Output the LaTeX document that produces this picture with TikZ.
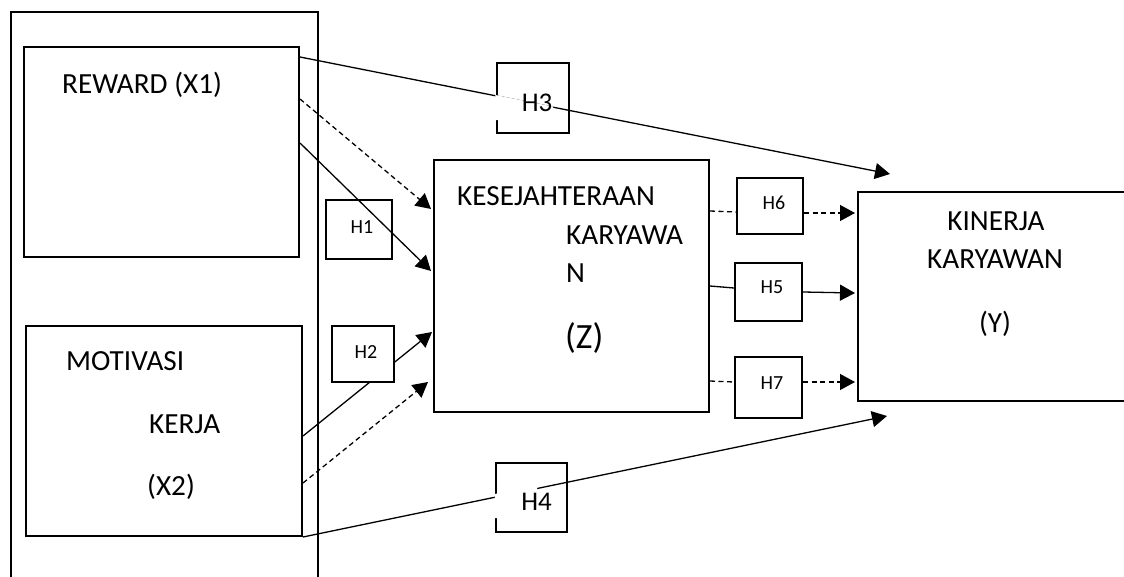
\documentclass[tikz,border=0pt]{standalone}
\usepackage{fontspec}
\setmainfont{Carlito}
\usetikzlibrary{arrows.meta}
\begin{document}
\begin{tikzpicture}[x=1pt,y=-1pt,
  box/.style={draw,line width=2pt,inner sep=0pt},
  hbox/.style={draw,line width=2pt,inner sep=0pt},
  conn/.style={line width=1.3pt},
  dconn/.style={line width=1.3pt,dash pattern=on 5pt off 3.5pt},
  tip/.style={-{Triangle[length=15pt,width=16pt]}},
  lbl/.style={inner sep=0pt,font=\fontsize{29.2}{34}\selectfont},
  zlbl/.style={inner sep=0pt,font=\fontsize{35.5}{40}\selectfont},
  hlbl/.style={inner sep=0pt,font=\fontsize{20}{24}\selectfont},
  hbig/.style={inner sep=0pt,font=\fontsize{27}{32}\selectfont}]
\useasboundingbox (0,0) rectangle (1124,576);
\clip (0,0) rectangle (1124,576);
\fill[white] (0,0) rectangle (1124,576);
% main boxes
\node[box,minimum width=307pt,minimum height=620pt,anchor=north west] (grp) at (10,11) {};
\node[box,minimum width=275pt,minimum height=210pt] (rew) at (161.5,152) {};
\node[box,minimum width=276pt,minimum height=210pt] (mot) at (164,431) {};
\node[box,minimum width=275pt,minimum height=252pt] (z) at (571.5,286) {};
\node[box,minimum width=290pt,minimum height=209pt,anchor=west] (kin) at (857,296.5) {};
% hypothesis boxes
\node[hbox,minimum width=66pt,minimum height=59pt] (h1) at (359,229.5) {};
\node[hbox,minimum width=72pt,minimum height=70pt] (h3) at (533,98) {};
\node[hbox,minimum width=71pt,minimum height=69pt] (h4) at (531.5,497.5) {};
\node[hbox,minimum width=66pt,minimum height=56pt] (h6) at (770,206) {};
\node[hbox,minimum width=67pt,minimum height=58pt] (h5) at (768.5,292) {};
\node[hbox,minimum width=67pt,minimum height=61pt] (h7) at (768.5,387.5) {};
% connectors
\draw[conn,tip] ([yshift=-11pt]rew.north east) -- ([xshift=33pt,yshift=17pt]kin.north west);
\draw[dconn,tip] ([yshift=-53pt]rew.north east) -- ([xshift=-2pt,yshift=-50pt]z.north west);
\draw[conn,tip] ([yshift=-97pt]rew.north east) -- ([xshift=-2pt,yshift=-112pt]z.north west);
\draw[conn,tip] ([yshift=-111pt]mot.north east) -- ([xshift=-1pt,yshift=-173pt]z.north west);
\draw[dconn,tip] ([yshift=-158pt]mot.north east) -- ([xshift=-5pt,yshift=-223pt]z.north west);
\draw[conn,tip] (mot.south east) -- ([xshift=30pt,yshift=-14pt]kin.south west);
\draw[dconn] ([yshift=-52pt]z.north east) -- ([yshift=-6pt]h6.west);
\draw[dconn,tip] ([yshift=-7pt]h6.east) -- ([xshift=-2pt,yshift=83.5pt]kin.west);
\draw[conn] ([yshift=-127pt]z.north east) -- ([yshift=4pt]h5.west);
\draw[conn,tip] (h5.east) -- ([xshift=-2pt,yshift=3.5pt]kin.west);
\draw[dconn] ([yshift=-222pt]z.north east) -- ([yshift=5.5pt]h7.west);
\draw[dconn,tip] ([yshift=5.5pt]h7.east) -- ([xshift=-2pt,yshift=-85.5pt]kin.west);
% H2 box covers the line beneath it
\node[hbox,fill=white,minimum width=62pt,minimum height=56pt] (h2) at (363,354) {};
% white text frames in H3 and H4
\fill[white] (495.3,95) -- (553,106.5) -- (553,120) -- (495.3,120) -- cycle;
\fill[white] (494.8,494) -- (537,485) -- (537,518) -- (494.8,518) -- cycle;
% labels
\node[lbl,anchor=base west] (trew) at (62,93) {REWARD (X1)};
\node[lbl,anchor=base west] (tmot1) at (66,370) {MOTIVASI};
\node[lbl,anchor=base west] (tmot2) at (149,433) {KERJA};
\node[lbl,anchor=base west] (tmot3) at (147,495) {(X2)};
\node[lbl,anchor=base west] (tz1) at (457,205) {KESEJAHTERAAN};
\node[lbl,anchor=base west] (tz2) at (566,244) {KARYAWA};
\node[lbl,anchor=base west] (tz3) at (566,282) {N};
\node[zlbl,anchor=base west] (tz4) at (565,348) {(Z)};
\node[lbl,anchor=base] (tk1) at (996,230) {KINERJA};
\node[lbl,anchor=base] (tk2) at (995,268) {KARYAWAN};
\node[lbl,anchor=base] (tk3) at (995,332) {(Y)};
\node[hlbl] (th1) at (362,227) {H1};
\node[hlbl] (th2) at (366,352) {H2};
\node[hbig] (th3) at (537,103) {H3};
\node[hbig] (th4) at (536.5,502) {H4};
\node[hlbl] (th6) at (774,203) {H6};
\node[hlbl] (th5) at (772,287) {H5};
\node[hlbl] (th7) at (772,383) {H7};
\end{tikzpicture}
\end{document}
